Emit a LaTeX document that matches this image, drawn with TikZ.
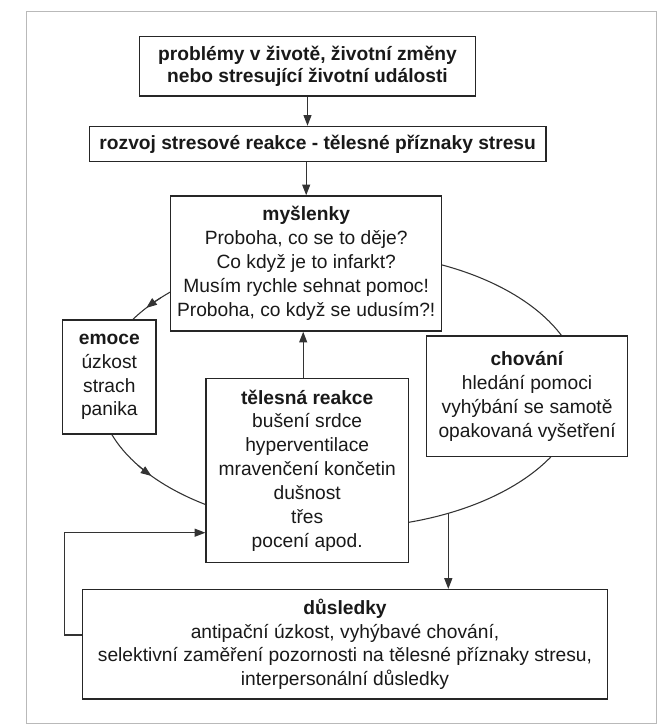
\documentclass[tikz,border=0pt]{standalone}
\usepackage{fontspec}
\setmainfont{Liberation Sans}
\usetikzlibrary{arrows.meta}
\begin{document}
\begin{tikzpicture}[x=0.75pt,y=-0.75pt,>={Triangle[length=8pt,width=6pt]},
	box/.style={draw=black!85,line width=1.1pt,fill=white,align=center,inner sep=0pt,
		text=black!90,font=\fontsize{14.4}{17.9}\selectfont},
	tok/.style={draw=black!80,line width=0.8pt}]
	\useasboundingbox (0,0) rectangle (668,727);
	\draw[gray!55,line width=0.6pt] (26.7,11) rectangle (656,723);
	% cyklus
	\coordinate (stred) at (340,390);
	\draw[tok] (stred) ellipse [x radius=241,y radius=138];
	\draw[tok,->] (stred) ++(222:241 and 138) arc[start angle=222,end angle=216.5,x radius=241,y radius=138];
	\draw[tok,->] (stred) ++(147:241 and 138) arc[start angle=147,end angle=141.5,x radius=241,y radius=138];
	% uzly
	\node[box,minimum width=252.3pt,minimum height=44.6pt,font=\fontsize{14.4}{16.3}\selectfont\bfseries] (problemy) at (307.5,66.3)
		{problémy v životě, životní změny\\nebo stresující životní události};
	\node[box,minimum width=342.5pt,minimum height=26.3pt,font=\fontsize{14.4}{16.3}\selectfont\bfseries] (rozvoj) at (317.7,144)
		{rozvoj stresové reakce - tělesné příznaky stresu};
	\node[box,minimum width=203.3pt,minimum height=101.3pt] (myslenky) at (306.2,263.5)
		{\textbf{myšlenky}\\Proboha, co se to děje?\\Co když je to infarkt?\\Musím rychle sehnat pomoc!\\Proboha, co když se udusím?!};
	\node[box,minimum width=70pt,minimum height=85.5pt] (emoce) at (109.3,377)
		{\textbf{emoce}\\úzkost\\strach\\panika};
	\node[box,minimum width=150.9pt,minimum height=90.5pt] (chovani) at (527.1,396.3)
		{\textbf{chování}\\hledání pomoci\\vyhýbání se samotě\\opakovaná vyšetření};
	\node[box,minimum width=151.7pt,minimum height=138.3pt] (telesna) at (307.2,470.5)
		{\textbf{tělesná reakce}\\bušení srdce\\hyperventilace\\mravenčení končetin\\dušnost\\třes\\pocení apod.};
	\node[box,minimum width=394pt,minimum height=82pt] (dusledky) at (345,644.3)
		{\textbf{důsledky}\\antipační úzkost, vyhýbavé chování,\\selektivní zaměření pozornosti na tělesné příznaky stresu,\\interpersonální důsledky};
	% sipky
	\draw[tok,->] (problemy.south) -- (problemy.south |- rozvoj.north);
	\draw[tok,->] (myslenky.north |- rozvoj.south) -- (myslenky.north);
	\draw[tok,->] ([xshift=-3pt]telesna.north) -- ([xshift=-3pt]telesna.north |- myslenky.south);
	\coordinate (odbocka) at (448.3,513.3);
	\draw[tok,->] (odbocka) -- (odbocka |- dusledky.north);
	\coordinate (zpet) at (64.3,635);
	\coordinate (vstup) at (120,532.7);
	\draw[tok,->] (dusledky.west |- zpet) -- (zpet) |- (telesna.west |- vstup);
\end{tikzpicture}
\end{document}
